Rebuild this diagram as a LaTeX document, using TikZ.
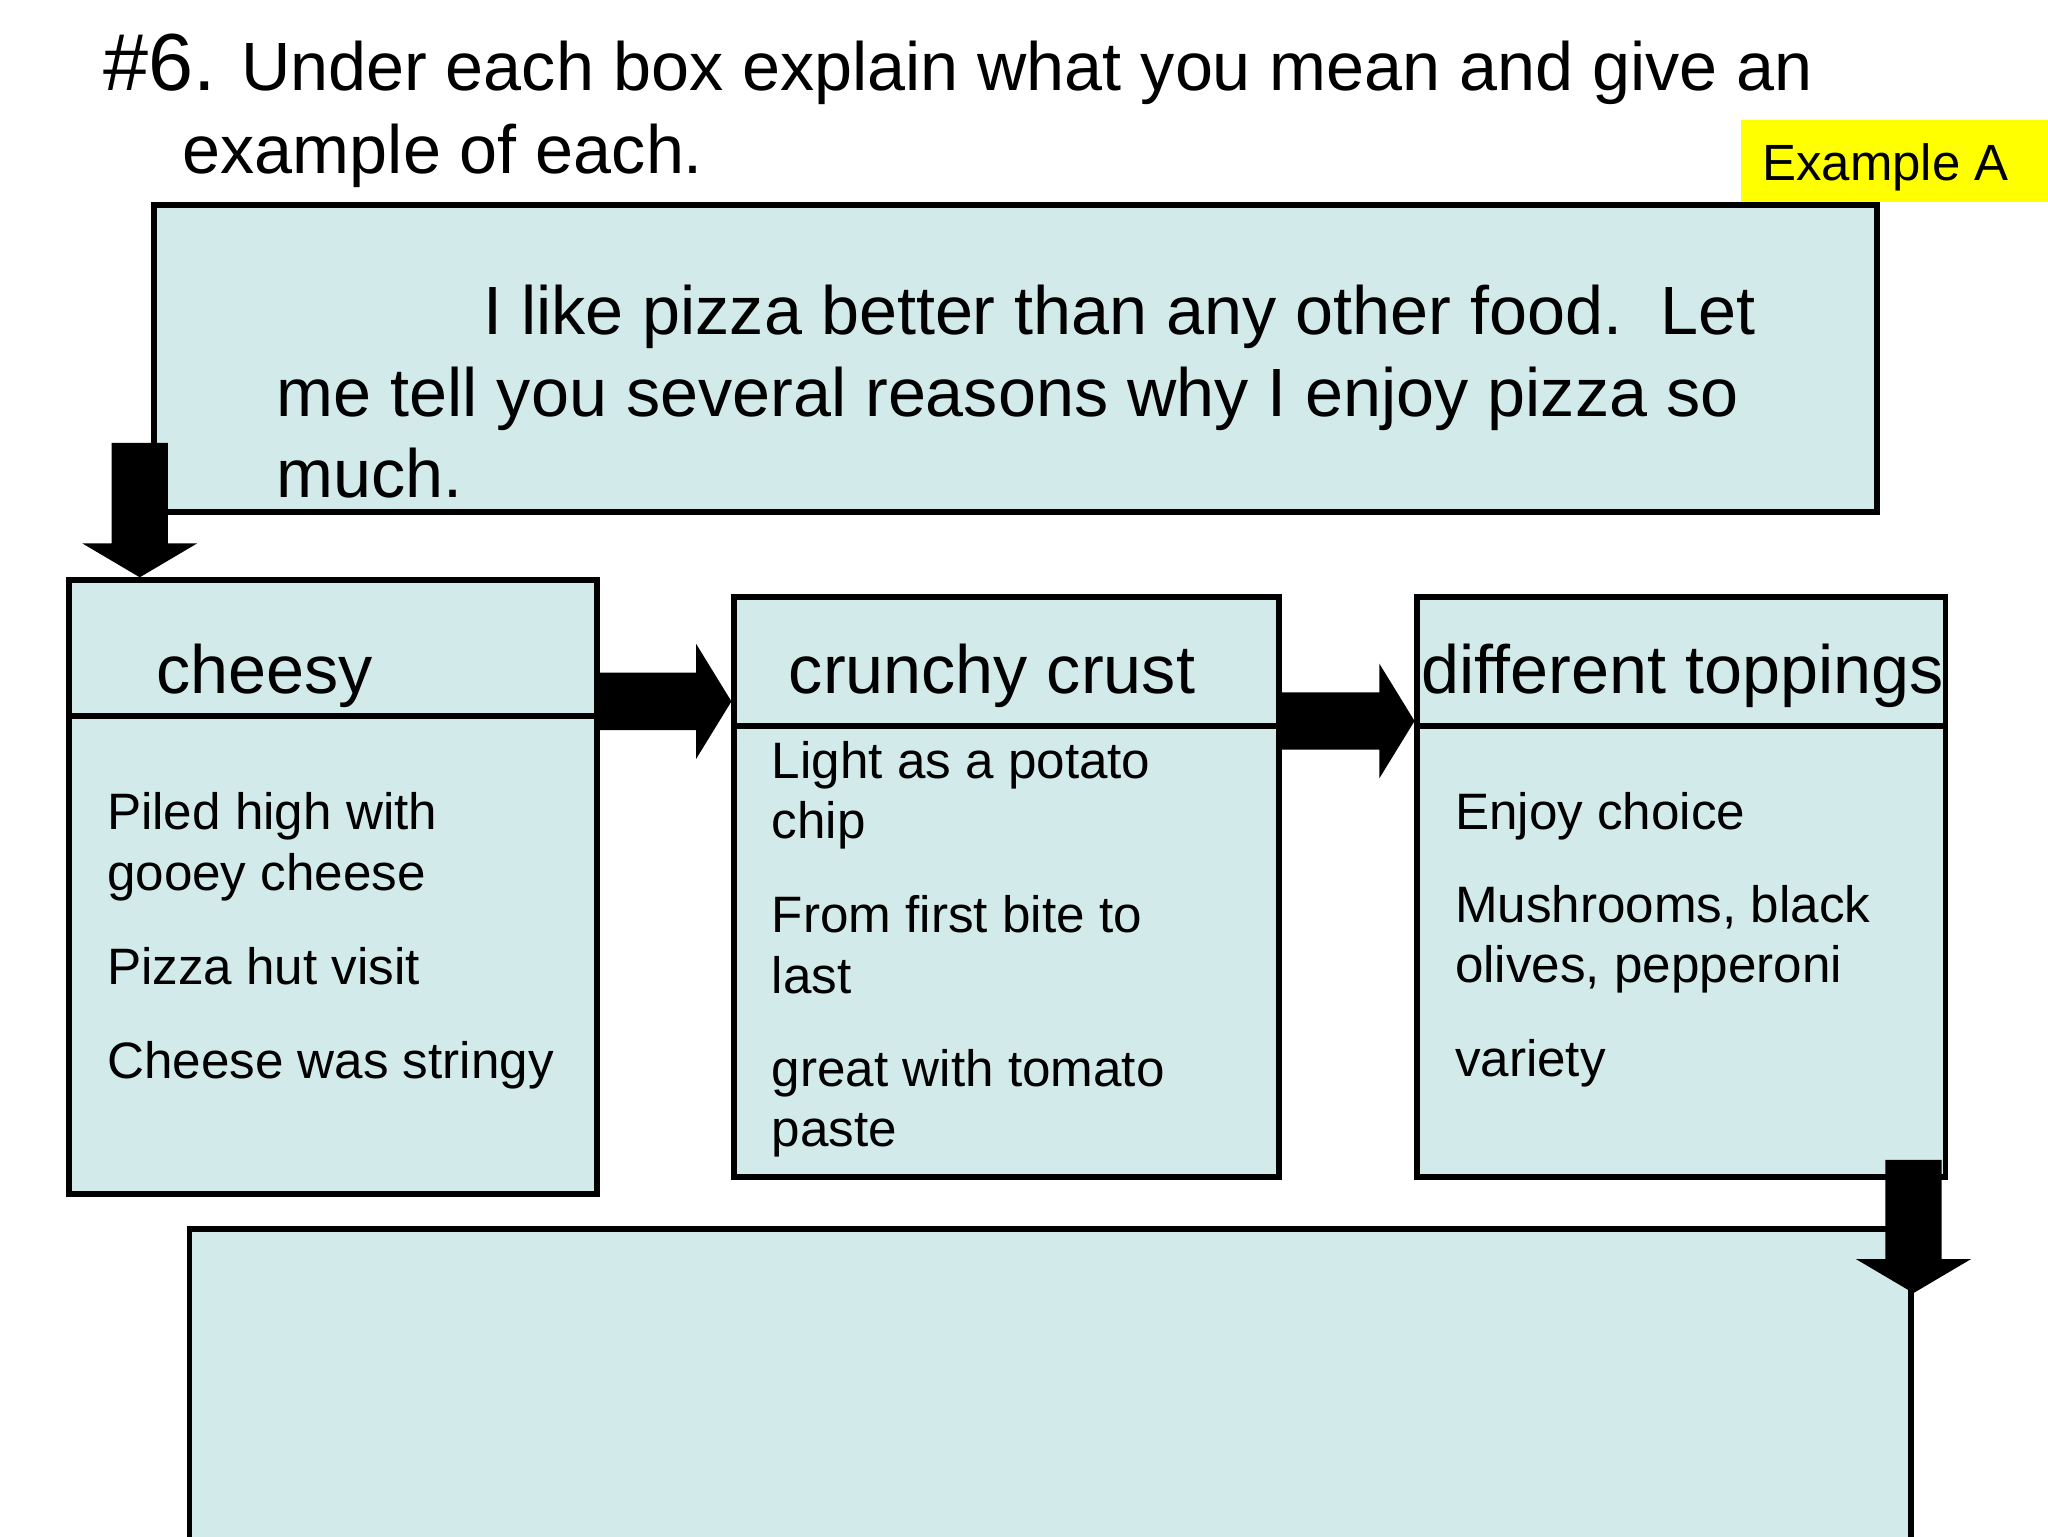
\documentclass[tikz,border=0pt]{standalone}
\usepackage{fontspec}
\setmainfont{Liberation Sans}
\usetikzlibrary{calc}
\definecolor{boxfill}{RGB}{210,234,234}
\definecolor{tagyellow}{RGB}{255,255,0}
\newcommand\harrowfill[2]{\fill[black] let \p1=(#1), \p2=(#2) in
 (\x1,\y2+22pt) -- (\x2-27pt,\y2+22pt) -- (\x2-27pt,\y2+44pt) -- (\x2,\y2) --
 (\x2-27pt,\y2-44pt) -- (\x2-27pt,\y2-22pt) -- (\x1,\y2-22pt) -- cycle;}
\newcommand\varrowfill[2]{\fill[black] let \p1=(#1), \p2=(#2) in
 (\x2-21.5pt,\y1) -- (\x2-21.5pt,\y2+26pt) -- (\x2-44pt,\y2+26pt) -- (\x2,\y2) --
 (\x2+44pt,\y2+26pt) -- (\x2+21.5pt,\y2+26pt) -- (\x2+21.5pt,\y1) -- cycle;}
\begin{document}
\begin{tikzpicture}[x=1pt,y=-1pt,
  box/.style={draw=black, line width=4.4pt, fill=boxfill, inner sep=0pt, outer sep=0pt, anchor=north west},
  divider/.style={draw=black, line width=4.4pt},
  body/.style={anchor=base west, inner sep=0pt, outer sep=0pt, font=\fontsize{39.2}{47}\selectfont},
  headtxt/.style={anchor=base west, inner sep=0pt, outer sep=0pt, font=\fontsize{52.3}{62}\selectfont},
  ]
\useasboundingbox (0,0) rectangle (1568,1176);
% title
\node[headtxt] (title1) at (79,69.5) {{\fontsize{62}{62}\selectfont \#6.} Under each box explain what you mean and give an};
\node[headtxt] (title2) at (140,133) {example of each.};
% Example A tag
\fill[tagyellow] (1333,92) rectangle (1568,155);
\node[anchor=base west, inner sep=0pt, font=\fontsize{39}{45}\selectfont] (exA) at (1349,138) {Example A};
% boxes
\node[box, minimum width=1319, minimum height=235] (top) at (118,157) {};
\node[box, minimum width=404, minimum height=470] (b1) at (53,444) {};
\node[box, minimum width=417, minimum height=444] (b2) at (562,457) {};
\node[box, minimum width=404.5, minimum height=444] (b3) at (1085,457) {};
\node[box, minimum width=1318, minimum height=300] (bot) at (145,941) {};
\draw[divider] ($(b1.north west)+(0,104)$) -- ($(b1.north east)+(0,104)$);
\draw[divider] ($(b2.north west)+(0,99)$) -- ($(b2.north east)+(0,99)$);
\draw[divider] ($(b3.north west)+(0,99)$) -- ($(b3.north east)+(0,99)$);
% block arrows
\coordinate (a0s) at ($(top.south west)+(-11,-53)$);
\coordinate (a0e) at ($(b1.north west)+(54,-2)$);
\varrowfill{a0s}{a0e}
\coordinate (a1s) at ($(b1.north east)+(0,94)$);
\coordinate (a1e) at ($(b2.north west)+(-2,80)$);
\harrowfill{a1s}{a1e}
\coordinate (a2s) at ($(b2.north east)+(0,95)$);
\coordinate (a2e) at ($(b3.north west)+(-2,95)$);
\harrowfill{a2s}{a2e}
\coordinate (a3s) at ($(b3.south east)+(-24,-13)$);
\coordinate (a3e) at ($(bot.north east)+(2,49)$);
\varrowfill{a3s}{a3e}
% top paragraph
\node[headtxt] (p1) at (370,256) {I like pizza better than any other food.\ \ Let};
\node[headtxt] (p2) at (212,318.5) {me tell you several reasons why I enjoy pizza so};
\node[headtxt] (p3) at (212,381) {much.};
% headers
\node[headtxt] (h1) at (120,531) {cheesy};
\node[headtxt] (h2) at (604,531) {crunchy crust};
\node[headtxt] (h3) at (1088,531) {different toppings};
% body texts
\node[body] (t11) at (82,635) {Piled high with};
\node[body] (t12) at (82,682) {gooey cheese};
\node[body] (t13) at (82,753.5) {Pizza hut visit};
\node[body] (t14) at (82,825.5) {Cheese was stringy};
\node[body] (t21) at (591,596) {Light as a potato};
\node[body] (t22) at (591,642) {chip};
\node[body] (t23) at (591,714) {From first bite to};
\node[body] (t24) at (591,760.5) {last};
\node[body] (t25) at (591,832) {great with tomato};
\node[body] (t26) at (591,878) {paste};
\node[body] (t31) at (1114,635) {Enjoy choice};
\node[body] (t32) at (1114,706.5) {Mushrooms, black};
\node[body] (t33) at (1114,752.5) {olives, pepperoni};
\node[body] (t34) at (1114,824.5) {variety};
\end{tikzpicture}
\end{document}
